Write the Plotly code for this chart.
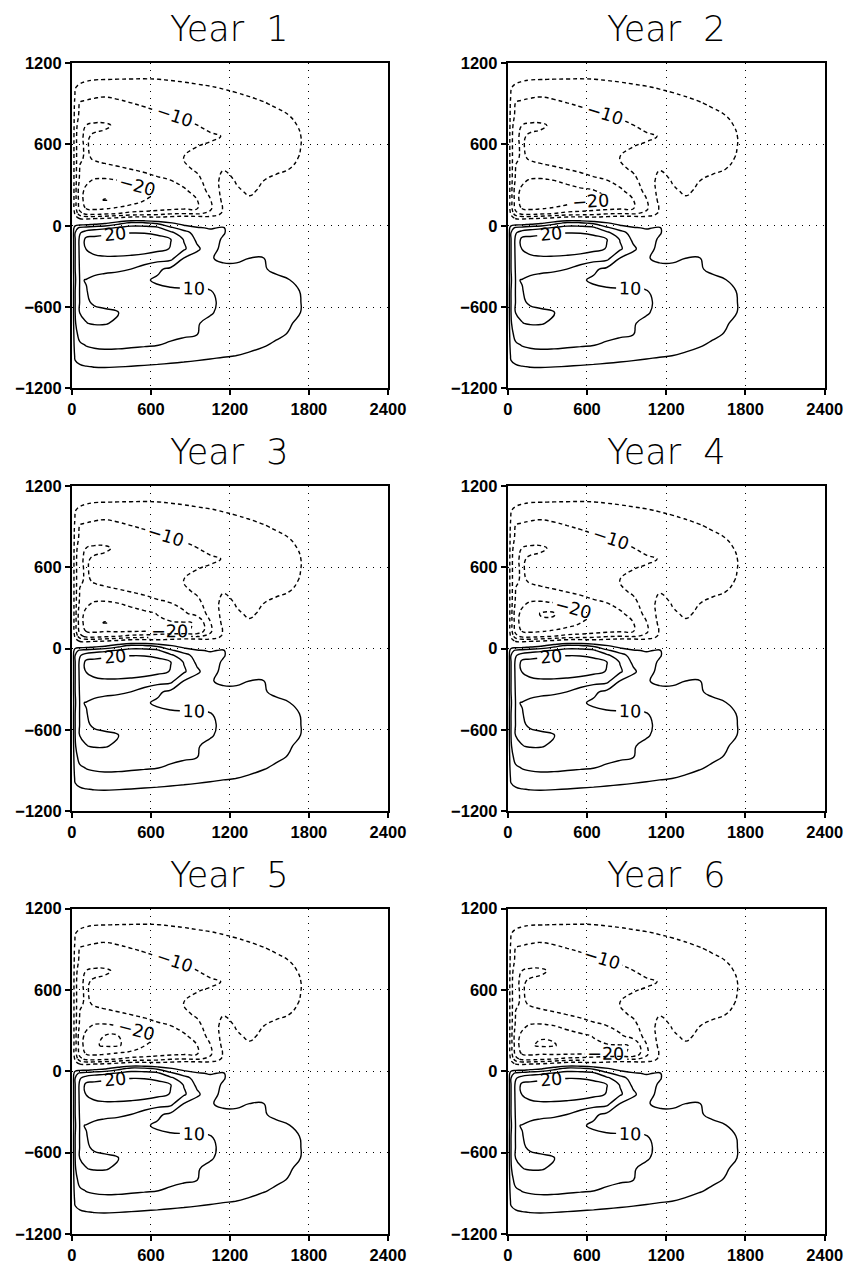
import plotly.graph_objects as go

# ---------------- data ----------------
YEARS = [1, 2, 3, 4, 5, 6]
X_TICKS = [0, 600, 1200, 1800, 2400]
Y_TICKS = [-1200, -600, 0, 600, 1200]

X_NODES = [0, 25, 60, 110, 170, 250, 350, 450, 550, 650, 750, 850, 950, 1050,
           1150, 1250, 1350, 1450, 1550, 1650, 1750, 1850, 2000, 2400]
Y_NODES = [1200, 1140, 1080, 1020, 960, 900, 820, 740, 660, 580, 500, 420, 340,
           260, 190, 130, 90, 55, 20, -15, -50, -100, -170, -240, -320, -400,
           -480, -560, -640, -720, -800, -880, -960, -1040, -1100, -1160, -1200]

# Year 1 field, rows listed from top (y=1200) to bottom (y=-1200)
BASE = [
    [0] * 24,
    [0, -1.5, -2.5, -2.8, -3, -3, -3, -3, -3, -3, -2.8, -2.6, -2.3, -2, -1.8, -1.5, -1.3, -1, -0.8, -0.6, -0.4, -0.2, 0, 0],
    [0, -2.5, -3.8, -4.5, -4.85, -4.95, -5.05, -5.1, -5.15, -5.05, -4.8, -4.6, -4.3, -4, -3.7, -3.4, -3, -2.6, -2.2, -1.8, -1.3, -0.8, -0.3, 0],
    [0, -4.8, -6, -6.5, -7, -7.3, -7.2, -7, -6.8, -6.5, -6.2, -5.8, -5.5, -5.2, -4.8, -4.5, -4.1, -3.7, -3.2, -2.6, -2, -1.3, -0.5, 0],
    [0, -5.5, -8, -9, -9.5, -9.8, -9.5, -9.2, -8.8, -8.3, -7.8, -7.3, -6.8, -6.3, -5.8, -5.3, -4.9, -4.5, -4, -3.3, -2.5, -1.6, -0.6, 0],
    [0, -6.5, -10.5, -10.8, -11, -11, -10.6, -10.1, -9.7, -9.2, -8.7, -8.2, -7.7, -7.2, -6.7, -6.2, -5.7, -5.2, -4.7, -3.9, -2.9, -1.8, -0.7, 0],
    [0, -7, -11, -11.5, -11.7, -11.7, -11.5, -11.2, -10.8, -10.4, -10.05, -9.6, -9, -8.4, -7.8, -7.2, -6.6, -6, -5.5, -4.95, -3.6, -2.2, -0.8, 0],
    [0, -7.5, -13.5, -15.1, -16, -16, -13.8, -13, -12.3, -11.7, -11.1, -10.6, -10.05, -9.3, -8.6, -7.9, -7.3, -6.7, -6.2, -5.6, -4.6, -2.6, -0.9, 0],
    [0, -8, -14.6, -15.4, -14.5, -13.5, -13, -12.6, -12.2, -11.8, -11.4, -11, -10.6, -10.4, -9.9, -8.4, -7.7, -7, -6.4, -5.8, -4.9, -2.8, -1, 0],
    [0, -8, -14.6, -15.3, -14.2, -13.4, -13, -12.6, -12.1, -11.6, -11, -10.5, -9.98, -9.6, -8.5, -7.8, -7.2, -6.7, -6.2, -5.7, -4.9, -2.8, -1, 0],
    [0, -8, -14.6, -15.4, -14.7, -14.2, -13.7, -13.2, -12.6, -11.9, -11, -9.98, -9.2, -8.6, -7.9, -7.3, -6.8, -6.3, -5.9, -5.4, -4.8, -2.7, -1, 0],
    [0, -8, -15.2, -15.8, -16, -15.8, -15.4, -14.9, -14, -13, -11.9, -10.8, -9.4, -7.2, -5.3, -5.6, -5.8, -5.7, -5.5, -5.02, -3.8, -2.3, -0.9, 0],
    [0, -8, -16, -19, -20.3, -20.5, -19.8, -18.5, -17, -15.8, -14.9, -13, -11, -8, -3.5, -5.4, -5.8, -5.1, -4.5, -3.8, -2.9, -1.8, -0.7, 0],
    [0, -8, -18.5, -21, -22.5, -23.5, -23, -22, -21, -19.8, -17.5, -15.8, -13, -8.5, -3.5, -4.5, -5.6, -4.4, -3.8, -3.2, -2.5, -1.5, -0.6, 0],
    [0, -8, -18, -22, -24, -25.2, -24.3, -22, -20.1, -18.8, -17.5, -16.2, -15.1, -10.3, -3.8, -3.5, -4.5, -3.8, -3.3, -2.8, -2.2, -1.3, -0.5, 0],
    [0, -8, -17, -20.5, -21, -20.6, -19.5, -18.5, -17.8, -17.2, -16.6, -16, -15.4, -10.8, -4.6, -3.2, -3, -2.8, -2.5, -2.2, -1.7, -1, -0.4, 0],
    [0, -6, -13, -16.5, -17, -16, -14.9, -13.5, -13, -12, -10.5, -9.9, -10.5, -9, -4, -2.5, -2.3, -2.2, -2, -1.8, -1.4, -0.8, -0.3, 0],
    [0, -3, -5.5, -6, -5.5, -5.05, -3.5, -1.5, -1.5, -2.5, -2, -1, -1, -2, -4.8, -2, -1.8, -1.8, -1.6, -1.5, -1.2, -0.7, -0.3, 0],
    [0, 1, 1, 1, 2.5, 4, 8, 11.5, 11, 9, 5.5, 3, 1.5, 0.5, 0, 0, 0, 0, 0, 0, 0, 0, 0, 0],
    [0, 8, 11, 12, 13, 14, 15.5, 17, 17, 16, 11, 7.5, 5.5, 4.6, 5.4, 2.5, 1.5, 1.2, 1, 0.8, 0.6, 0.3, 0.1, 0],
    [0, 10, 14.5, 17, 18, 18.5, 19.5, 19.8, 19.7, 19, 16, 12, 7.8, 6.2, 5.3, 3, 2, 1.6, 1.3, 1, 0.8, 0.4, 0.1, 0],
    [0, 10, 16, 21.5, 21.5, 22.2, 22.8, 23, 22.6, 21.5, 20.1, 14.7, 9, 6.5, 4.6, 3.2, 2.4, 1.9, 1.5, 1.2, 0.9, 0.5, 0.1, 0],
    [0, 10, 16, 20.3, 21.5, 22, 22.3, 22.3, 22, 21.2, 19.8, 15.8, 11, 6.8, 3.8, 3, 2.5, 2, 1.6, 1.3, 1, 0.5, 0.1, 0],
    [0, 10, 15.8, 18, 19, 19.4, 19.3, 18.9, 18.2, 17, 16.5, 9.8, 7.5, 5.4, 4, 4.2, 5.05, 5.2, 3.8, 2.8, 2, 1, 0.3, 0],
    [0, 10, 15.5, 16.3, 16.5, 16.3, 15.9, 14.95, 12.8, 10.9, 8.8, 7.8, 7.2, 6.8, 6.4, 6.1, 5.8, 5.3, 4.4, 3.3, 2.3, 1.2, 0.3, 0],
    [0, 9.5, 15.2, 14.9, 14, 13, 12.3, 11.6, 10.6, 9.3, 8.6, 8.2, 7.9, 7.6, 7.2, 6.9, 6.5, 6.1, 5.7, 5.1, 3.5, 1.8, 0.5, 0],
    [0, 10, 15.3, 15.1, 14.2, 13.5, 13, 12.5, 11.8, 11.1, 10.7, 10.6, 10.5, 10.2, 8.8, 7.9, 7.3, 6.8, 6.3, 5.7, 4.8, 2.2, 0.6, 0],
    [0, 10, 15.2, 15.4, 14.5, 14, 13.6, 13.2, 12.8, 12.3, 11.9, 11.5, 11, 10.5, 9.4, 8.4, 7.7, 7, 6.4, 5.8, 4.9, 2.4, 0.7, 0],
    [0, 10, 15.1, 15.6, 15.8, 15.6, 15.05, 14, 13.3, 12.6, 12, 11.4, 10.8, 10.3, 9.2, 8.3, 7.5, 6.8, 6.2, 5.6, 4.9, 2.3, 0.6, 0],
    [0, 9.5, 14, 14.9, 15.3, 15.3, 14.3, 13.4, 12.6, 11.9, 11.2, 10.7, 10.2, 9.3, 8.5, 7.8, 7.1, 6.5, 5.9, 5.3, 4.1, 2, 0.5, 0],
    [0, 8.5, 11.5, 12.2, 12.5, 12.4, 12.2, 11.8, 11.4, 11, 10.7, 10.4, 10.05, 9.2, 8.4, 7.6, 6.9, 6.2, 5.6, 4.8, 3.4, 1.7, 0.4, 0],
    [0, 7.5, 9.3, 10.2, 10.6, 10.8, 10.7, 10.5, 10.3, 10.07, 9.6, 9.1, 8.6, 8.1, 7.5, 6.8, 6, 5.3, 4.5, 3.6, 2.6, 1.3, 0.3, 0],
    [0, 6, 7.5, 8.2, 8.5, 8.7, 8.7, 8.5, 8.2, 7.8, 7.3, 6.8, 6.3, 5.8, 5.3, 4.95, 4.4, 3.8, 3.2, 2.6, 1.8, 0.9, 0.2, 0],
    [0, 3.5, 4.3, 4.8, 5.1, 5.2, 5.05, 4.8, 4.5, 4.2, 3.9, 3.6, 3.3, 3, 2.7, 2.4, 2.1, 1.8, 1.5, 1.2, 0.8, 0.4, 0.1, 0],
    [0, 2, 2.8, 3, 3.1, 3, 2.9, 2.7, 2.5, 2.3, 2.1, 1.9, 1.7, 1.5, 1.3, 1.2, 1, 0.9, 0.7, 0.5, 0.3, 0.2, 0, 0],
    [0, 0.8, 1, 1.1, 1.1, 1.1, 1, 1, 0.9, 0.9, 0.8, 0.7, 0.6, 0.6, 0.5, 0.4, 0.4, 0.3, 0.3, 0.2, 0.1, 0.1, 0, 0],
    [0] * 24,
]

# where the later years differ from Year 1: {(y node, x node): value}
YEAR_EDITS = {
    1: {},
    2: {(190, 250): -24.4, (190, 650): -20.6, (190, 750): -20.4, (190, 850): -18.5,
        (260, 650): -20.2, (260, 750): -18.8},
    3: {(190, 650): -20.8, (190, 750): -20.5, (190, 850): -20.3, (190, 950): -19.8,
        (260, 650): -19.8, (130, 350): -21, (130, 450): -20.8, (130, 550): -20.6,
        (130, 650): -20.5, (130, 750): -20.4, (130, 850): -20.3, (130, 950): -19.5},
    4: {(260, 250): -25.3, (260, 350): -25.3, (190, 250): -24.3},
    5: {(190, 170): -24.5, (190, 250): -25.5, (190, 350): -25.4, (190, 450): -23.5,
        (260, 250): -25.2, (260, 350): -25.1, (260, 450): -23.2},
    6: {(190, 170): -24.5, (190, 250): -25.6, (190, 350): -25.3, (190, 450): -23.5,
        (260, 250): -24.6, (260, 350): -24.4,
        (190, 650): -20.8, (190, 750): -20.5, (190, 850): -20.3, (190, 950): -19.8,
        (260, 650): -19.8, (130, 350): -21, (130, 450): -20.8, (130, 550): -20.6,
        (130, 650): -20.5, (130, 750): -20.4, (130, 850): -20.3, (130, 950): -19.5},
}

for r in BASE:
    assert len(r) == len(X_NODES)
assert len(BASE) == len(Y_NODES)


def year_field(year):
    z = [row[:] for row in BASE]
    for (yy, xx), v in YEAR_EDITS[year].items():
        z[Y_NODES.index(yy)][X_NODES.index(xx)] = v
    return z[::-1]


Y_ASC = Y_NODES[::-1]

# ---------------- layout ----------------
# screen = offset + scale * figure pixel (measured from earlier renders)
W, H = 866, 1264
SX, OX = 0.972, 6.0
SY, OY = 0.986, 7.8
COLS = [(72.8, 388.4), (508.0, 824.5)]          # target screen pixels
ROWS = [(62.0, 388.0), (485.5, 811.5), (909.0, 1235.0)]


def px(s):
    return ((s - OX) / SX) / W


def py(s):
    return 1 - ((s - OY) / SY) / H


fig = go.Figure()
BLACK = [[0, "black"], [1, "black"]]
LABEL_FONT = dict(family="DejaVu Sans", size=17.5, color="black")


def contour(z, xa, ya, start, end, dash, labels):
    return go.Contour(
        x=X_NODES, y=Y_ASC, z=z, xaxis=xa, yaxis=ya,
        autocontour=False,
        contours=dict(start=start, end=end, size=10, coloring="lines",
                      showlabels=labels, labelfont=LABEL_FONT),
        line=dict(width=1.4, dash=dash, smoothing=1.3),
        colorscale=BLACK, showscale=False, hoverinfo="skip",
    )


annotations = []
for i, year in enumerate(YEARS):
    r, c = divmod(i, 2)
    suf = "" if i == 0 else str(i + 1)
    xa, ya = "x" + suf, "y" + suf
    z = year_field(year)
    dash = "4px,3px"
    fig.add_trace(contour(z, xa, ya, -25, -5, dash, False))
    fig.add_trace(contour(z, xa, ya, -20, -10, dash, True))
    fig.add_trace(contour(z, xa, ya, 5, 25, "solid", False))
    fig.add_trace(contour(z, xa, ya, 10, 20, "solid", True))

    l, rr = COLS[c]
    t, b = ROWS[r]
    common = dict(showline=True, linewidth=2, linecolor="black", mirror=True,
                  ticks="outside", ticklen=5, tickwidth=1.5, tickcolor="black",
                  showgrid=True, gridcolor="black", gridwidth=1, griddash="1px,6px",
                  zeroline=False, fixedrange=True,
                  tickfont=dict(family="Liberation Sans", size=16.5, color="black",
                                weight="bold"))
    fig.update_layout(**{
        "xaxis" + suf: dict(common, domain=[px(l), px(rr)], range=[0, 2400],
                            tickvals=X_TICKS, anchor=ya),
        "yaxis" + suf: dict(common, domain=[py(b), py(t)], range=[-1200, 1200],
                            tickvals=Y_TICKS, anchor=xa),
    })
    annotations.append(dict(
        text="Year\u00a0\u00a0" + str(year), xref="paper", yref="paper",
        x=px((l + rr) / 2), y=py(t - 34), xanchor="center", yanchor="middle",
        showarrow=False, font=dict(family="DejaVu Sans", size=35, color="black", weight=200),
    ))

fig.update_layout(width=W, height=H, margin=dict(l=0, r=0, t=0, b=0),
                  paper_bgcolor="white", plot_bgcolor="white", showlegend=False,
                  annotations=annotations)

fig.write_html("out.html")
